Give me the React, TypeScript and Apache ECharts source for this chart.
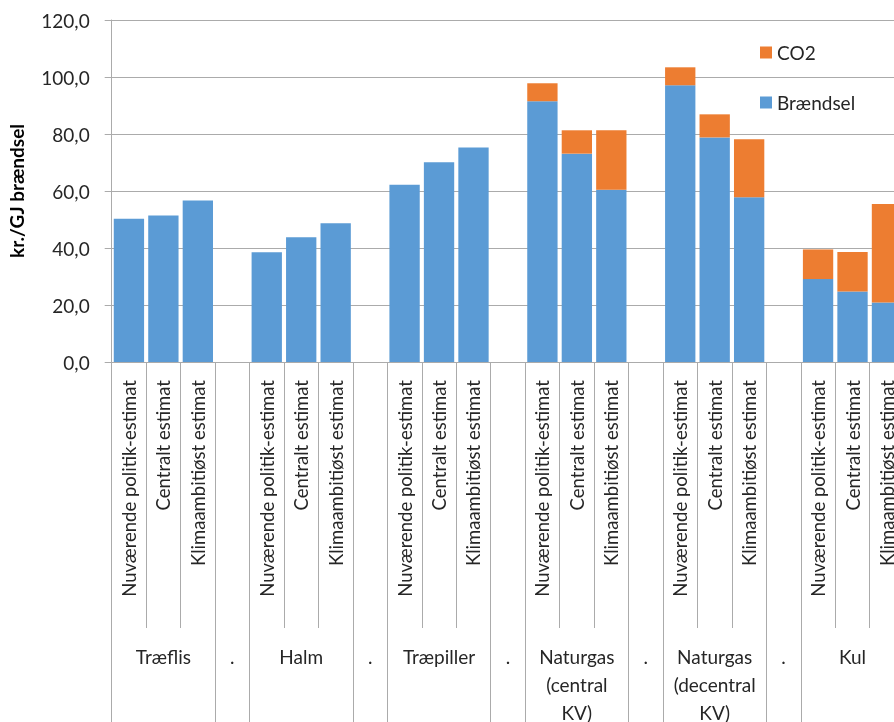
import React, { useEffect, useRef } from "react";
import * as echarts from "echarts";

// Fuel groups and the three price scenarios drawn for each of them
const groups = [
  "Træflis",
  "Halm",
  "Træpiller",
  "Naturgas\n(central\nKV)",
  "Naturgas\n(decentral\nKV)",
  "Kul",
];
const scenarios = [
  "Nuværende politik-estimat",
  "Centralt estimat",
  "Klimaambitiøst estimat",
];

// kr./GJ per scenario, one row per fuel group
const braendsel = [
  [50.3, 51.4, 56.7],
  [38.5, 43.8, 48.7],
  [62.2, 70.1, 75.3],
  [91.5, 73.1, 60.4],
  [97.1, 78.8, 57.8],
  [29.1, 24.7, 20.9],
];
const co2 = [
  [0, 0, 0],
  [0, 0, 0],
  [0, 0, 0],
  [6.3, 8.2, 20.9],
  [6.3, 8.1, 20.4],
  [10.4, 13.9, 34.5],
];

const yTicks = [0, 20, 40, 60, 80, 100, 120];

const FONT = "Lato, 'Liberation Sans', sans-serif";
const TEXT = "#262626";
const LINE = "#ababab";

// Flatten into category slots, with a "." spacer slot between the groups
const slotLabels: string[] = [];
const slotGroupLabels: string[] = [];
const slotBraendsel: (number | string)[] = [];
const slotCo2: (number | string)[] = [];
const groupStarts = new Set<number>();
groups.forEach((g, gi) => {
  if (gi > 0) {
    groupStarts.add(slotLabels.length);
    slotLabels.push("");
    slotGroupLabels.push(".");
    slotBraendsel.push("-");
    slotCo2.push("-");
  }
  groupStarts.add(slotLabels.length);
  scenarios.forEach((s, si) => {
    slotLabels.push(s);
    slotGroupLabels.push(si === 1 ? g : "");
    slotBraendsel.push(braendsel[gi][si]);
    slotCo2.push(co2[gi][si]);
  });
});

export default function App() {
  const ref = useRef<HTMLDivElement>(null);
  useEffect(() => {
    if (!ref.current) return;
    const chart = echarts.init(ref.current, undefined, { renderer: "svg" });
    chart.setOption({
      animation: false,
      textStyle: { fontFamily: FONT },
      // the last group runs past the right edge of the page
      grid: {
        left: 111.7,
        top: 20,
        height: 342,
        width: 792.5,
        outerBoundsMode: "none",
        containLabel: false,
      },
      legend: {
        data: ["CO2", "Brændsel"],
        orient: "vertical",
        left: 760,
        top: 43,
        padding: 0,
        itemWidth: 12,
        itemHeight: 12,
        itemGap: 31,
        itemTextGap: 5,
        icon: "rect",
        textStyle: { fontSize: 19, color: TEXT, fontFamily: FONT },
      },
      xAxis: [
        {
          type: "category",
          data: slotLabels,
          position: "bottom",
          axisLine: { show: true, lineStyle: { color: LINE, width: 1 } },
          axisTick: {
            show: true,
            interval: 0,
            length: 266,
            lineStyle: { color: LINE, width: 1 },
          },
          axisLabel: {
            interval: 0,
            rotate: 90,
            margin: 18,
            fontSize: 18.5,
            color: TEXT,
            fontFamily: FONT,
          },
          splitLine: { show: false },
        },
        {
          type: "category",
          data: slotGroupLabels,
          position: "bottom",
          offset: 266,
          axisLine: { show: false },
          axisTick: {
            show: true,
            interval: (index: number) => groupStarts.has(index),
            length: 120,
            lineStyle: { color: LINE, width: 1 },
          },
          axisLabel: {
            interval: 0,
            margin: 14,
            fontSize: 19,
            lineHeight: 28,
            color: TEXT,
            fontFamily: FONT,
          },
          splitLine: { show: false },
        },
      ],
      yAxis: {
        type: "value",
        min: yTicks[0],
        max: yTicks[yTicks.length - 1],
        interval: 20,
        name: "kr./GJ brændsel",
        nameLocation: "middle",
        nameGap: 86,
        nameTextStyle: {
          fontSize: 19,
          fontWeight: "bold",
          color: "#000",
          fontFamily: FONT,
        },
        axisLine: { show: true, lineStyle: { color: LINE, width: 1 } },
        axisTick: { show: true, length: 7, lineStyle: { color: LINE } },
        axisLabel: {
          margin: 22,
          fontSize: 19,
          color: TEXT,
          fontFamily: FONT,
          formatter: (v: number) => v.toFixed(1).replace(".", ","),
        },
        splitLine: { show: true, lineStyle: { color: LINE, width: 1 } },
      },
      series: [
        {
          name: "Brændsel",
          type: "bar",
          stack: "total",
          xAxisIndex: 0,
          data: slotBraendsel,
          barCategoryGap: "12%",
          itemStyle: { color: "#5B9BD5" },
        },
        {
          name: "CO2",
          type: "bar",
          stack: "total",
          xAxisIndex: 0,
          data: slotCo2,
          barCategoryGap: "12%",
          itemStyle: { color: "#ED7D31" },
        },
      ],
    });
    return () => chart.dispose();
  }, []);
  return (
    <div
      ref={ref}
      style={{ position: "fixed", left: 0, top: 0, width: 894, height: 722 }}
    />
  );
}
